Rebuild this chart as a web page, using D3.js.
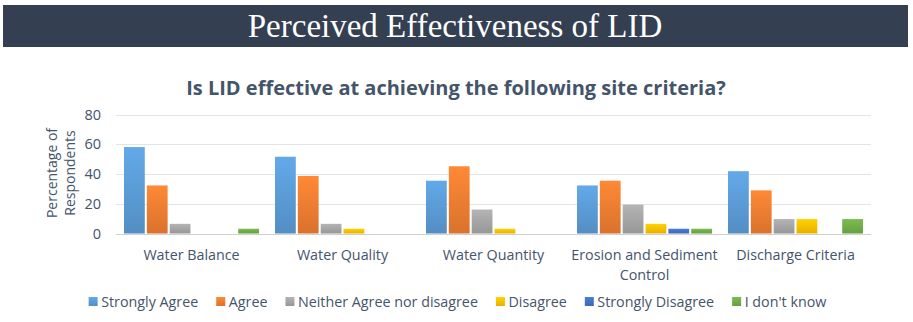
<!DOCTYPE html>
<html>
<head>
<meta charset="utf-8">
<script src="https://cdn.jsdelivr.net/npm/d3@7"></script>
<style>
  html, body { margin: 0; padding: 0; background: #fff; }
  svg { display: block; }
  .cat-label, .tick-label, .legend-label, .y-title { fill: #44546a; font-family: "Open Sans", "Noto Sans", sans-serif; }
</style>
</head>
<body>
<div id="chart"></div>
<script>
const categories = ["Water Balance", "Water Quality", "Water Quantity", "Erosion and Sediment Control", "Discharge Criteria"];
const responses = ["Strongly Agree", "Agree", "Neither Agree nor disagree", "Disagree", "Strongly Disagree", "I don't know"];
const strongAgree = [58.1, 51.6, 35.5, 32.3, 41.9];
const agree = [32.3, 38.7, 45.2, 35.5, 29.0];
const neither = [6.5, 6.5, 16.1, 19.4, 9.7];
const disagree = [0, 3.2, 3.2, 6.5, 9.7];
const strongDisagree = [0, 0, 0, 3.2, 0];
const dontKnow = [3.2, 0, 0, 3.2, 9.7];
const yTicks = [0, 20, 40, 60, 80];

const seriesValues = [strongAgree, agree, neither, disagree, strongDisagree, dontKnow];
const colors = ["#5b9bd5", "#ed7d31", "#a5a5a5", "#ffc000", "#4472c4", "#70ad47"];

const W = 913, H = 322;
const svg = d3.select("#chart").append("svg").attr("width", W).attr("height", H);

// banner
svg.append("rect").attr("x", 3).attr("y", 5).attr("width", 905).attr("height", 42).attr("fill", "#343f52");
svg.append("text")
  .attr("x", 455).attr("y", 37)
  .attr("text-anchor", "middle")
  .attr("fill", "#fff")
  .attr("font-family", "'Liberation Serif', 'DejaVu Serif', serif")
  .attr("font-size", 33)
  .text("Perceived Effectiveness of LID");

// chart title
svg.append("text")
  .attr("x", 456).attr("y", 95)
  .attr("text-anchor", "middle")
  .attr("fill", "#44546a")
  .attr("font-family", "'Open Sans', 'Noto Sans', sans-serif")
  .attr("font-weight", "bold")
  .attr("font-size", 20)
  .text("Is LID effective at achieving the following site criteria?");

// gradients for the bars (lighter at top)
const defs = svg.append("defs");
colors.forEach((c, i) => {
  const gr = defs.append("linearGradient").attr("id", "grad" + i)
    .attr("x1", 0).attr("y1", 0).attr("x2", 0).attr("y2", 1);
  gr.append("stop").attr("offset", "0%").attr("stop-color", d3.color(c).brighter(0.25));
  gr.append("stop").attr("offset", "100%").attr("stop-color", d3.color(c).darker(0.25));
});

const plot = { left: 116, right: 871, top: 114.5, bottom: 233.5 };

const x = d3.scaleBand().domain(categories).range([plot.left, plot.right]).paddingInner(0).paddingOuter(0);
const xInner = d3.scaleBand().domain(d3.range(responses.length)).range([8, x.bandwidth() - 8]).paddingInner(0.09);
const y = d3.scaleLinear().domain([0, 80]).range([plot.bottom, plot.top]);

// gridlines
svg.append("g").selectAll("line").data(yTicks).join("line")
  .attr("x1", plot.left).attr("x2", plot.right)
  .attr("y1", d => Math.round(y(d)) + 0.5).attr("y2", d => Math.round(y(d)) + 0.5)
  .attr("stroke", d => d === 0 ? "#d0d0d0" : "#e2e4e8").attr("stroke-width", 1.2);

// y tick labels
svg.append("g").selectAll("text").data(yTicks).join("text")
  .attr("class", "tick-label")
  .attr("x", 101).attr("y", d => y(d) + 5)
  .attr("text-anchor", "end")
  .attr("font-size", 14.5)
  .text(d => d);

// y axis title
const yt = svg.append("text").attr("class", "y-title")
  .attr("transform", "translate(57,173) rotate(-90)")
  .attr("text-anchor", "middle").attr("font-size", 14);
yt.append("tspan").attr("x", 0).attr("dy", 0).text("Percentage of");
yt.append("tspan").attr("x", 0).attr("dy", 18).text("Respondents");

// bars
const groups = svg.append("g").selectAll("g").data(categories).join("g")
  .attr("transform", d => `translate(${x(d)},0)`);
groups.selectAll("rect")
  .data((d, ci) => seriesValues.map((s, si) => ({ si, v: s[ci] })))
  .join("rect")
  .filter(d => d.v > 0)
  .attr("x", d => xInner(d.si))
  .attr("width", xInner.bandwidth())
  .attr("y", d => y(d.v))
  .attr("height", d => y(0) - y(d.v))
  .attr("fill", d => `url(#grad${d.si})`);

// category labels (long one wraps onto two lines)
const catG = svg.append("g");
categories.forEach(c => {
  const cx = x(c) + x.bandwidth() / 2;
  const lines = c === "Erosion and Sediment Control" ? ["Erosion and Sediment", "Control"] : [c];
  lines.forEach((ln, i) => {
    catG.append("text").attr("class", "cat-label")
      .attr("x", cx).attr("y", 259.5 + i * 20)
      .attr("text-anchor", "middle").attr("font-size", 14.3)
      .text(ln);
  });
});

// legend
const legend = svg.append("g").attr("transform", "translate(0,307)");
const items = legend.selectAll("g").data(responses).join("g");
items.append("rect").attr("width", 9).attr("height", 9).attr("y", -10)
  .attr("fill", (d, i) => `url(#grad${i})`);
items.append("text").attr("class", "legend-label")
  .attr("x", 12.5).attr("y", 0).attr("font-size", 14.3)
  .text(d => d);
let lx = 0;
const gap = 18;
const widths = [];
items.each(function () { widths.push(12.5 + d3.select(this).select("text").node().getComputedTextLength()); });
const totalW = d3.sum(widths) + gap * (widths.length - 1);
lx = 457.5 - totalW / 2;
items.attr("transform", (d, i) => {
  const t = `translate(${lx},0)`;
  lx += widths[i] + gap;
  return t;
});
</script>
</body>
</html>
